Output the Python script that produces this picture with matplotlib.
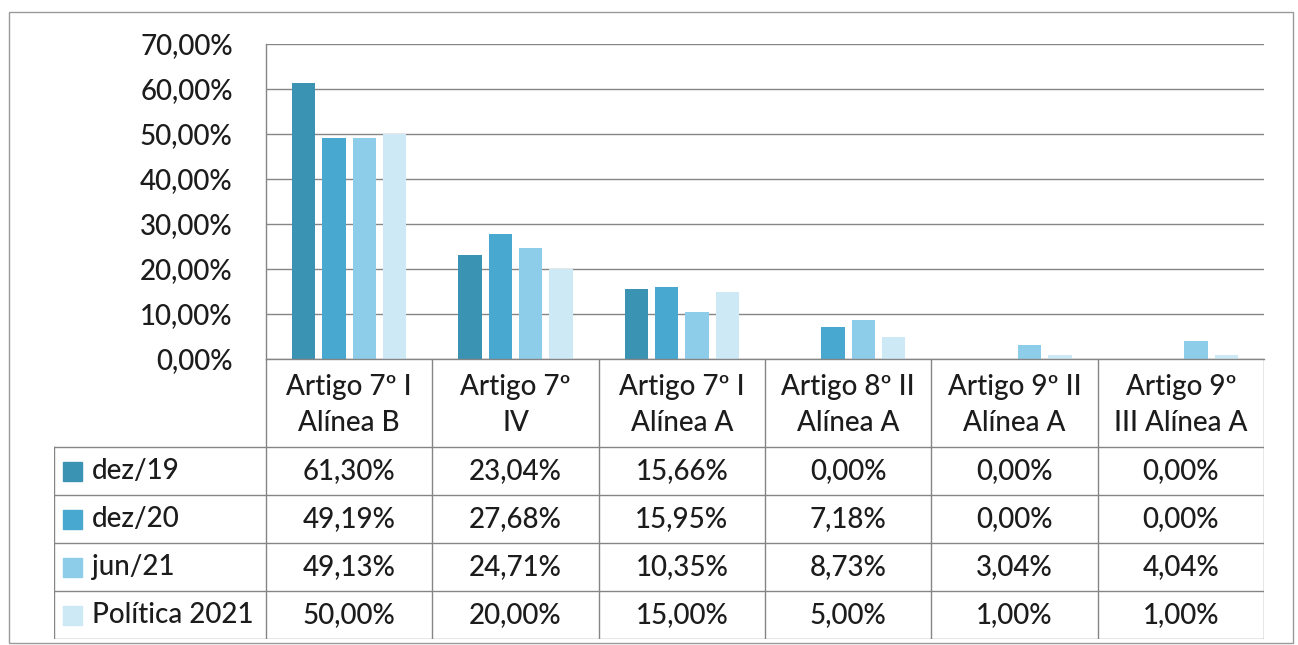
import matplotlib
matplotlib.use('Agg')
import matplotlib.pyplot as plt
from matplotlib.patches import Rectangle

categories = ['Artigo 7º I\nAlínea B', 'Artigo 7º\nIV', 'Artigo 7º I\nAlínea A',
              'Artigo 8º II\nAlínea A', 'Artigo 9º II\nAlínea A', 'Artigo 9º\nIII Alínea A']
series = ['dez/19', 'dez/20', 'jun/21', 'Política 2021']
dez19 = [61.30, 23.04, 15.66, 0.00, 0.00, 0.00]
dez20 = [49.19, 27.68, 15.95, 7.18, 0.00, 0.00]
jun21 = [49.13, 24.71, 10.35, 8.73, 3.04, 4.04]
politica = [50.00, 20.00, 15.00, 5.00, 1.00, 1.00]
yticks = [0, 10, 20, 30, 40, 50, 60, 70]

colors = ['#3a93b3', '#48a8cf', '#8ecdea', '#cde9f5']
txt = '#1c1c1c'
line = '#858585'

plt.rcParams['font.family'] = ['Lato', 'DejaVu Sans']
plt.rcParams['font.size'] = 20
plt.rcParams['font.weight'] = 'medium'

def pct(v):
    return f'{v:.2f}%'.replace('.', ',')

W, H = 1298, 645
fig = plt.figure(figsize=(W / 100, H / 100), dpi=100)

def box(l, t, r, b):
    return [l / W, 1 - b / H, (r - l) / W, (b - t) / H]

# bar chart
ax = fig.add_axes(box(266, 44, 1264, 359))
values = [dez19, dez20, jun21, politica]
step, width = 0.182, 0.141
for k, (vals, c) in enumerate(zip(values, colors)):
    xs = [i + 0.5 + (k - 1.5) * step for i in range(len(categories))]
    ax.bar(xs, vals, width=width, color=c, zorder=2)

ax.set_xlim(0, len(categories))
ax.set_ylim(0, 70)
ax.set_yticks(yticks)
ax.set_yticklabels([pct(v) for v in yticks], color=txt)
ax.set_xticks([])
ax.yaxis.grid(True, color=line, lw=1)
ax.set_axisbelow(True)
for s in ['top', 'right']:
    ax.spines[s].set_visible(False)
for s in ['left', 'bottom']:
    ax.spines[s].set_color(line)
    ax.spines[s].set_linewidth(1)
ax.tick_params(axis='y', length=0, pad=24)

# data table below, y in pixel rows
tab = fig.add_axes(box(54, 359, 1264, 639))
ux = (1264 - 266) / len(categories)
x0 = -(266 - 54) / ux
tab.set_xlim(x0, len(categories))
tab.set_ylim(639, 359)
tab.axis('off')

head_bot = 447
row_h = 48
n = len(series)
for r in range(n + 1):
    y = head_bot + r * row_h
    tab.plot([x0, len(categories)], [y, y], color=line, lw=1)
for i in range(len(categories) + 1):
    tab.plot([i, i], [359, head_bot + n * row_h], color=line, lw=1)
tab.plot([x0, x0], [head_bot, head_bot + n * row_h], color=line, lw=1)

for i, cat in enumerate(categories):
    tab.text(i + 0.5, (359 + head_bot) / 2 + 2, cat, ha='center', va='center',
             color=txt, linespacing=1.45)

for r, (name, vals, c) in enumerate(zip(series, values, colors)):
    yc = head_bot + r * row_h + row_h / 2
    tab.add_patch(Rectangle((x0 + 9 / ux, yc - 9.5), 19 / ux, 19, color=c))
    tab.text(x0 + 38 / ux, yc, name, ha='left', va='center', color=txt)
    for i, v in enumerate(vals):
        tab.text(i + 0.5, yc, pct(v), ha='center', va='center', color=txt)

# outer frame
fig.add_artist(Rectangle((9 / W, 1 - 643 / H), (1293 - 9) / W, (643 - 12) / H,
                         transform=fig.transFigure, fill=False, ec='#9a9a9a', lw=1))

fig.savefig('out.png', dpi=100)
